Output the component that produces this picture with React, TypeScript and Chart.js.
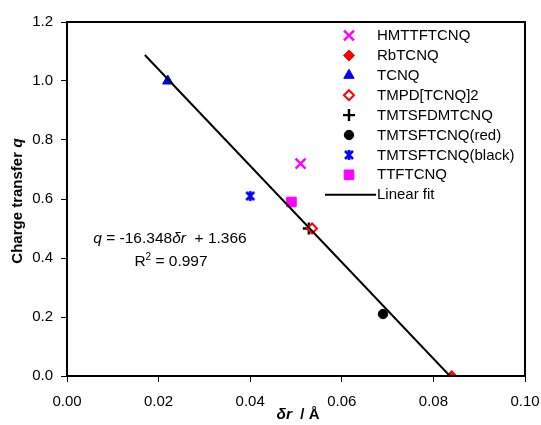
import React, { useEffect, useRef } from "react";
import { Chart, registerables } from "chart.js";
import { drawPoint } from "chart.js/helpers";

Chart.register(...registerables);

const compounds = [
  "HMTTFTCNQ",
  "RbTCNQ",
  "TCNQ",
  "TMPD[TCNQ]2",
  "TMTSFDMTCNQ",
  "TMTSFTCNQ(red)",
  "TMTSFTCNQ(black)",
  "TTFTCNQ",
];
const deltaR = [0.051, 0.084, 0.022, 0.0535, 0.0528, 0.069, 0.04, 0.049];
const chargeQ = [0.72, 0.0, 1.0, 0.5, 0.5, 0.21, 0.61, 0.59];
const fitX = [0.017, 0.0836];
const fitY = [1.088, 0.0];
const xTicks = [0, 0.02, 0.04, 0.06, 0.08, 0.1];
const yTicks = [0, 0.2, 0.4, 0.6, 0.8, 1.0, 1.2];
const fitLabel = "Linear fit";

function makeAsterisk(color: string): HTMLCanvasElement {
  const c = document.createElement("canvas");
  c.width = 12;
  c.height = 12;
  const g = c.getContext("2d")!;
  g.strokeStyle = color;
  g.lineWidth = 2.6;
  g.beginPath();
  g.moveTo(2, 2);
  g.lineTo(10, 10);
  g.moveTo(10, 2);
  g.lineTo(2, 10);
  g.moveTo(6, 1);
  g.lineTo(6, 11);
  g.stroke();
  return c;
}

const markerStyles: any[] = [
  { pointStyle: "crossRot", color: "#ff00ff", fill: "#ff00ff", radius: 7, borderWidth: 2.4 },
  { pointStyle: "rectRot", color: "#ff0000", fill: "#ff0000", radius: 5.5, borderWidth: 1 },
  { pointStyle: "triangle", color: "#0000ff", fill: "#0000ff", radius: 6, borderWidth: 1 },
  { pointStyle: "rectRot", color: "#ff0000", fill: "#ffffff", radius: 5, borderWidth: 2 },
  { pointStyle: "cross", color: "#000000", fill: "#000000", radius: 6, borderWidth: 2.4 },
  { pointStyle: "circle", color: "#000000", fill: "#000000", radius: 4.7, borderWidth: 1 },
  { pointStyle: "asterisk", color: "#0000ff", fill: "#0000ff", radius: 6, borderWidth: 1 },
  { pointStyle: "rect", color: "#ff00ff", fill: "#ff00ff", radius: 6.8, borderWidth: 1 },
];

const FONT = '"Liberation Sans", Arial, sans-serif';

type Seg = { t: string; f: string; dy?: number };

function drawRich(ctx: CanvasRenderingContext2D, segs: Seg[], cx: number, cy: number) {
  let total = 0;
  for (const s of segs) {
    ctx.font = s.f;
    total += ctx.measureText(s.t).width;
  }
  let x = cx - total / 2;
  ctx.textBaseline = "middle";
  ctx.textAlign = "left";
  for (const s of segs) {
    ctx.font = s.f;
    ctx.fillText(s.t, x, cy + (s.dy || 0));
    x += ctx.measureText(s.t).width;
  }
}

function resolveStyle(st: any): any {
  return st.pointStyle === "asterisk" ? makeAsterisk(st.color) : st.pointStyle;
}

const overlayPlugin = {
  id: "overlay",
  afterDraw(chart: any) {
    const ctx: CanvasRenderingContext2D = chart.ctx;
    const a = chart.chartArea;
    ctx.save();
    // frame
    ctx.strokeStyle = "#000";
    ctx.lineWidth = 2;
    ctx.strokeRect(a.left, a.top, a.right - a.left, a.bottom - a.top);

    // legend
    const lx = 349;
    const tx = 377;
    const y0 = 35.5;
    const dy = 19.9;
    for (let i = 0; i < compounds.length; i++) {
      const st = markerStyles[i];
      const y = y0 + i * dy;
      ctx.fillStyle = st.fill;
      ctx.strokeStyle = st.color;
      ctx.lineWidth = st.borderWidth;
      drawPoint(ctx, { pointStyle: resolveStyle(st), radius: st.radius, rotation: 0, borderWidth: st.borderWidth } as any, lx, y);
      ctx.fillStyle = "#000";
      ctx.font = `15px ${FONT}`;
      ctx.textAlign = "left";
      ctx.textBaseline = "middle";
      ctx.fillText(compounds[i], tx, y + 0.5);
    }
    const yl = y0 + compounds.length * dy;
    ctx.strokeStyle = "#000";
    ctx.lineWidth = 2;
    ctx.beginPath();
    ctx.moveTo(325, yl);
    ctx.lineTo(376, yl);
    ctx.stroke();
    ctx.fillStyle = "#000";
    ctx.font = `15px ${FONT}`;
    ctx.textAlign = "left";
    ctx.textBaseline = "middle";
    ctx.fillText(fitLabel, 377, yl + 0.5);

    // equation
    const reg = `15.5px ${FONT}`;
    const it = `italic 15.5px ${FONT}`;
    drawRich(ctx, [
      { t: "q", f: it },
      { t: " = -16.348", f: reg },
      { t: "δr", f: it },
      { t: "  + 1.366", f: reg },
    ], 170, 239);
    drawRich(ctx, [
      { t: "R", f: reg },
      { t: "2", f: `10px ${FONT}`, dy: -5 },
      { t: " = 0.997", f: reg },
    ], 171, 262);

    // axis titles
    const b = `bold 15px ${FONT}`;
    const bi = `bold italic 15.5px ${FONT}`;
    drawRich(ctx, [
      { t: "δr", f: bi },
      { t: "  / Å", f: b },
    ], 298, 415);
    ctx.translate(18, 201);
    ctx.rotate(-Math.PI / 2);
    drawRich(ctx, [
      { t: "Charge transfer ", f: b },
      { t: "q", f: bi },
    ], 0, 0);
    ctx.restore();
  },
};

export default function App() {
  const ref = useRef<HTMLCanvasElement | null>(null);
  useEffect(() => {
    document.body.style.margin = "0";
    const canvas = ref.current;
    if (!canvas) return;
    const datasets: any[] = compounds.map((name, i) => {
      const st = markerStyles[i];
      return {
        type: "scatter",
        label: name,
        data: [{ x: deltaR[i], y: chargeQ[i] }],
        pointStyle: resolveStyle(st),
        pointRadius: st.radius,
        pointBorderWidth: st.borderWidth,
        pointBackgroundColor: st.fill,
        pointBorderColor: st.color,
        order: 1,
      };
    });
    datasets.push({
      type: "line",
      label: fitLabel,
      data: fitX.map((x, i) => ({ x, y: fitY[i] })),
      borderColor: "#000",
      borderWidth: 2,
      pointRadius: 0,
      fill: false,
      order: 0,
    });
    const chart = new Chart(canvas, {
      type: "scatter",
      data: { datasets },
      options: {
        animation: false,
        responsive: false,
        maintainAspectRatio: false,
        layout: { padding: { top: 22, right: 16, left: 0, bottom: 0 } },
        plugins: { legend: { display: false }, tooltip: { enabled: false } },
        scales: {
          x: {
            type: "linear",
            min: 0,
            max: 0.1,
            afterBuildTicks: (s: any) => {
              s.ticks = xTicks.map((v) => ({ value: v }));
            },
            afterFit: (s: any) => {
              s.height = 49;
              s.paddingLeft = 0;
              s.paddingRight = 0;
            },
            ticks: {
              callback: (v: any) => Number(v).toFixed(2),
              color: "#000",
              font: { family: FONT, size: 15 },
              padding: 11,
              maxRotation: 0,
            },
            grid: { display: true, drawOnChartArea: false, drawTicks: true, tickLength: 6, color: "#000", lineWidth: 1 },
            border: { display: true, color: "#000", width: 2 },
          },
          y: {
            type: "linear",
            min: 0,
            max: 1.2,
            afterBuildTicks: (s: any) => {
              s.ticks = yTicks.map((v) => ({ value: v }));
            },
            afterFit: (s: any) => {
              s.width = 67;
              s.paddingTop = 0;
              s.paddingBottom = 0;
            },
            ticks: {
              callback: (v: any) => Number(v).toFixed(1),
              color: "#000",
              font: { family: FONT, size: 15 },
              padding: 8,
            },
            grid: { display: true, drawOnChartArea: false, drawTicks: true, tickLength: 6, color: "#000", lineWidth: 1 },
            border: { display: true, color: "#000", width: 2 },
          },
        },
      },
      plugins: [overlayPlugin],
    } as any);
    return () => chart.destroy();
  }, []);
  return (
    <div style={{ width: 541, height: 425 }}>
      <canvas ref={ref} width={541} height={425} style={{ width: 541, height: 425, display: "block" }} />
    </div>
  );
}
